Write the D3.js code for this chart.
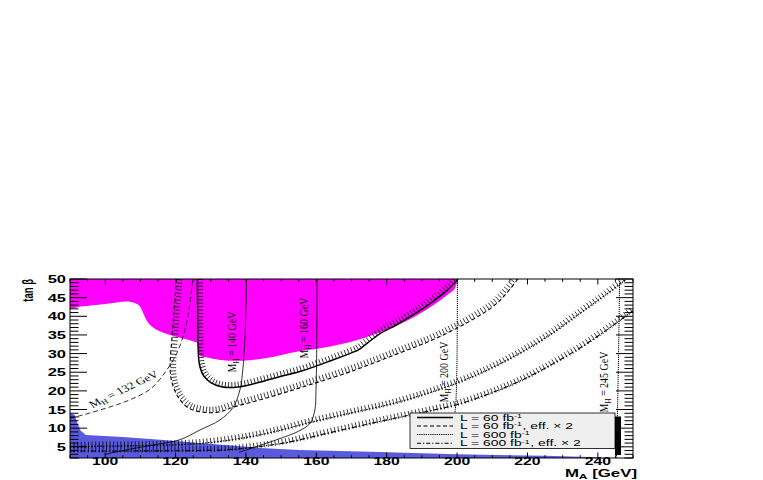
<!DOCTYPE html>
<html><head><meta charset="utf-8">
<script src="https://cdn.jsdelivr.net/npm/d3@7"></script>
<style>body{margin:0;background:#fff}svg{display:block}</style>
</head><body>
<svg id="c" width="763" height="480"></svg>
<script>
// ---- axes ----
const xDomain = [90, 250];
const yDomain = [2, 50];
const xTickLabels = [100, 120, 140, 160, 180, 200, 220, 240];
const yTickLabels = [5, 10, 15, 20, 25, 30, 35, 40, 45, 50];

// ---- excluded regions (M_A [GeV], tan beta) ----
const magentaEdge = [[90,42.2],[93,42.6],[100,43.3],[107,43.9],[109.5,43],[110.5,41.5],[111.3,39.8],[112.2,38.3],[113.6,37.0],[116,35.8],[118.4,35.0],[121,34.3],[124.9,33.3],[126.2,32.8],[126.9,29.5],[128.8,29.0],[132.6,28.3],[139.1,28.1],[145.9,28.8],[154.4,30.5],[163.9,31.9],[171.4,33.6],[176,35.0],[180,36.4],[187.4,39.6],[193,42.8],[197,45.6],[199.4,47.5],[199.8,50]];
const blueEdge = [[90,14],[91.3,13.6],[92.2,11.2],[93,9.4],[94.5,8.2],[105,7.6],[115.6,6.9],[126.9,6.0],[144,4.7],[155.3,4.15],[178,3.6],[199.9,3.0],[225,2.6],[240,2.2]];

// ---- discovery contours ----
const contL60 = [[126.2,50],[126.3,40],[126.4,32],[126.8,27],[128,24],[130,22.2],[133,21.1],[136.5,20.9],[140,21.4],[145,22.6],[150,23.9],[156,25.4],[163.9,28.0],[170,30.2],[172,31.0],[174.5,32.8],[178,35.3],[183,37.8],[187.4,40.3],[192,43.2],[197,46.8],[200.3,50]];
const contL60x2 = [[120.3,50],[119.6,42],[119.0,34.5],[118.5,28],[118.6,24],[119.6,20.5],[121.5,17.3],[124.1,15.2],[128.8,14.2],[132.6,14.4],[136.3,15.6],[145.9,18.1],[155.3,20.8],[169.5,25.1],[183.75,30.2],[193.1,33.7],[202.7,38.2],[210.2,42.6],[213.6,45.7],[217.3,50]];
const contL600 = [[90,5.1],[100,5.2],[112,5.35],[127,5.9],[140,7.5],[150,9.5],[157.2,11.3],[169.5,14.0],[183.75,17.1],[199.9,22.1],[209,25.8],[217.8,30.1],[226,34.8],[234.9,40.8],[242,45.6],[248.2,50]];
const contL600x2 = [[90,3.9],[110,3.9],[125,4.0],[136,4.3],[150.6,6.0],[164.8,9.0],[178,11.8],[190,14.2],[199.9,16.3],[209,19.2],[217.8,22.6],[226,26.6],[234.9,31.5],[242,36],[250,41.5]];

// ---- M_H iso-lines ----
const mh132 = [[90,12.7],[91.9,13.1],[100,15.3],[107,17.6],[113,20.6],[117.5,25.6],[120.3,30],[122.1,34.5],[123.3,39],[124.1,43.6],[124.9,50]];
const mh140 = [[100,3.0],[106.1,4.2],[113,5.4],[121.25,6.9],[126.9,9.5],[132.6,12.2],[136.3,15.5],[138.3,20.3],[139.1,25.6],[139.7,33.7],[140.2,50]];
const mh160 = [[138,3.5],[148.7,6.9],[155,9.2],[158.2,11.3],[159.6,14.9],[159.9,20],[160.1,30],[160.2,50]];
const mh200 = [[200.1,50],[200,30],[199.8,20],[199.5,15],[199,12]];
const mh245 = [[246.2,50],[245.9,30],[245.5,10],[245.3,2]];
const mhLabels = ["132", "140", "160", "200", "245"];

const legendLabels = ["L = 60 fb", "L = 60 fb", "L = 600 fb", "L = 600 fb"];
const legendSuffix = ["", ", eff. × 2", "", ", eff. × 2"];

// ---------------------------------------------------------------
const svg = d3.select("#c");
const X0 = 70, X1 = 633, Y0 = 279, Y1 = 458;
const x = d3.scaleLinear().domain(xDomain).range([X0, X1]);
const y = d3.scaleLinear().domain(yDomain).range([Y1, Y0]);
const SX = 1.5; // horizontal stretch of text in reference

svg.append("defs").append("clipPath").attr("id","clip")
  .append("rect").attr("x",X0).attr("y",Y0).attr("width",X1-X0).attr("height",Y1-Y0);
const g = svg.append("g").attr("clip-path","url(#clip)");

const line = d3.line().x(d=>x(d[0])).y(d=>y(d[1])).curve(d3.curveCatmullRom.alpha(0.5));
const lineLin = d3.line().x(d=>x(d[0])).y(d=>y(d[1]));

// magenta region
const magPoly = [[xDomain[0], yDomain[1]], ...magentaEdge, [magentaEdge[magentaEdge.length-1][0], yDomain[1]]];
g.append("path").attr("d", line(magPoly)+"Z").attr("fill","#ff00ff");
// blue region
const bluePoly = [[xDomain[0], yDomain[0]], ...blueEdge, [blueEdge[blueEdge.length-1][0], yDomain[0]]];
g.append("path").attr("d", lineLin(bluePoly)+"Z").attr("fill","#5a5ade");

// M_H lines
const mhSets = [
  {d: mh132, dash:"5,3", w:0.8},
  {d: mh140, dash:null, w:0.8},
  {d: mh160, dash:null, w:0.8},
  {d: mh200, dash:"1.2,0.8", w:1.0},
  {d: mh245, dash:"1.2,0.8", w:1.0}
];
mhSets.forEach(s => {
  g.append("path").attr("d", line(s.d)).attr("fill","none").attr("stroke","#000")
   .attr("stroke-width", s.w).attr("stroke-dasharray", s.dash);
});

// contours with hatching
function hatch(node, len, step, off) {
  const L = node.getTotalLength();
  const segs = [];
  for (let s = 0.5; s < L - 0.5; s += step) {
    const p = node.getPointAtLength(s);
    const q = node.getPointAtLength(Math.min(L, s + 0.6));
    const r = node.getPointAtLength(Math.max(0, s - 0.6));
    let dx = q.x - r.x, dy = q.y - r.y;
    const n = Math.hypot(dx, dy) || 1; dx /= n; dy /= n;
    const nx = dy, ny = -dx;
    segs.push(`M${p.x+nx*off},${p.y+ny*off}L${p.x+nx*len},${p.y+ny*len}`);
  }
  return segs.join("");
}
const contours = [
  {d: contL60,    dash:null,        w:1.5, hl:5.5, hs:3.4, ho:0.5, hw:0.8},
  {d: contL60x2,  dash:"4,2.5",     w:1.1, hl:6.0, hs:3.4, ho:0.5, hw:0.75},
  {d: contL600,   dash:"1.5,1.5",   w:1.1, hl:4.5, hs:3.6, ho:-1.5, hw:0.75},
  {d: contL600x2, dash:"5,2,1.5,2", w:1.1, hl:4.5, hs:3.6, ho:-1.5, hw:0.75}
];
contours.forEach(c => {
  const p = g.append("path").attr("d", line(c.d)).attr("fill","none").attr("stroke","#000")
    .attr("stroke-width", c.w).attr("stroke-dasharray", c.dash);
  g.append("path").attr("d", hatch(p.node(), c.hl, c.hs, c.ho)).attr("fill","none")
    .attr("stroke","#000").attr("stroke-width",c.hw);
});

// M_H labels
function mhLabel(txt, px, py, ang) {
  const t = svg.append("text")
    .attr("transform", `translate(${px},${py}) scale(1.3,1) rotate(${ang})`)
    .attr("text-anchor","middle")
    .style("font-family","'Liberation Serif', serif").style("font-size","10px");
  t.append("tspan").text("M");
  t.append("tspan").attr("dy","2").style("font-size","7px").text("H");
  t.append("tspan").attr("dy","-2").text(` = ${txt} GeV`);
}
mhLabel(mhLabels[0], 126, 392, -32);
mhLabel(mhLabels[1], 236, 342, -90);
mhLabel(mhLabels[2], 308, 328, -90);
mhLabel(mhLabels[3], 448, 372, -90);
mhLabel(mhLabels[4], 608, 382, -90);

// legend
const LX0 = 410, LX1 = 615, LY0 = 413, LY1 = 448.5;
svg.append("rect").attr("x",LX1).attr("y",LY0+3.5).attr("width",6).attr("height",LY1-LY0+3).attr("fill","#000");
svg.append("rect").attr("x",LX0).attr("y",LY0).attr("width",LX1-LX0).attr("height",LY1-LY0)
  .attr("fill","#efefef").attr("stroke","#000").attr("stroke-width",0.8);
const legDash = [null, "4,2.5", "1.2,1", "4,2,1.2,2"];
const rowY = [417.5, 426, 434.5, 443.3];
legendLabels.forEach((lab, i) => {
  svg.append("line").attr("x1",417).attr("x2",453).attr("y1",rowY[i]).attr("y2",rowY[i])
    .attr("stroke","#000").attr("stroke-width", i===0?1.3:1.1).attr("stroke-dasharray", legDash[i]);
  const t = svg.append("text").attr("transform",`translate(460,${rowY[i]+3.1}) scale(1.6,1)`)
    .style("font-family","'Liberation Sans', Arial, sans-serif").style("font-size","8.7px");
  t.append("tspan").text(lab);
  t.append("tspan").attr("dy","-2.8").style("font-size","5.5px").text("-1");
  if (legendSuffix[i]) t.append("tspan").attr("dy","2.8").attr("dx","0.5").text(legendSuffix[i]);
});

// frame and ticks
const ax = svg.append("g").attr("stroke","#000").attr("stroke-width",1);
ax.append("rect").attr("x",X0).attr("y",Y0).attr("width",X1-X0).attr("height",Y1-Y0).attr("fill","none");
const xMinor = d3.range(xDomain[0], xDomain[1]+0.01, 5);
const yMinor = d3.range(yDomain[0], yDomain[1]+0.01, 1);
xMinor.forEach(v => {
  const major = v % 20 === 0;
  const L = major ? 5.5 : 2.8;
  ax.append("line").attr("x1",x(v)).attr("x2",x(v)).attr("y1",Y1).attr("y2",Y1-L);
  ax.append("line").attr("x1",x(v)).attr("x2",x(v)).attr("y1",Y0).attr("y2",Y0+L);
});
yMinor.forEach(v => {
  const major = v % 5 === 0;
  const L = major ? 17 : 8.5;
  ax.append("line").attr("x1",X0).attr("x2",X0+L).attr("y1",y(v)).attr("y2",y(v));
  ax.append("line").attr("x1",X1).attr("x2",X1-L).attr("y1",y(v)).attr("y2",y(v));
});
const lblFont = "'Liberation Sans', Arial, sans-serif";
xTickLabels.forEach(v => {
  svg.append("text").attr("transform",`translate(${x(v)},${464.5}) scale(${SX},1)`)
    .attr("text-anchor","middle").style("font-family",lblFont).style("font-weight","bold")
    .style("font-size","10.5px").text(v);
});
yTickLabels.forEach(v => {
  svg.append("text").attr("transform",`translate(66,${y(v)+4}) scale(${SX},1)`)
    .attr("text-anchor","end").style("font-family",lblFont).style("font-weight","bold")
    .style("font-size","11px").text(v);
});
// axis titles
const xt = svg.append("text").attr("transform",`translate(637,477) scale(1.6,1)`)
  .attr("text-anchor","end").style("font-family",lblFont).style("font-weight","bold").style("font-size","10.5px");
xt.append("tspan").text("M");
xt.append("tspan").attr("dy","2.2").style("font-size","7.5px").text("A");
xt.append("tspan").attr("dy","-2.2").text(" [GeV]");
svg.append("text").attr("transform",`translate(33,279) scale(${SX},1) rotate(-90)`)
  .attr("text-anchor","end").style("font-family",lblFont).style("font-weight","bold")
  .style("font-size","9.5px").text("tan β");
</script>
</body></html>
